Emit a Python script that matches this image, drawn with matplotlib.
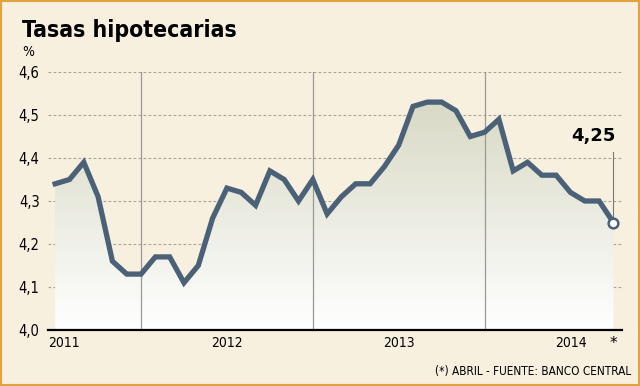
import numpy as np
import matplotlib
matplotlib.use("Agg")
import matplotlib.pyplot as plt
from matplotlib.colors import LinearSegmentedColormap

# monthly mortgage rates, Jan 2011 - Apr 2014
rates = [4.34, 4.35, 4.39, 4.31, 4.16, 4.13, 4.13, 4.17, 4.17, 4.11,
         4.15, 4.26, 4.33, 4.32, 4.29, 4.37, 4.35, 4.30, 4.35, 4.27,
         4.31, 4.34, 4.34, 4.38, 4.43, 4.52, 4.53, 4.53, 4.51, 4.45,
         4.46, 4.49, 4.37, 4.39, 4.36, 4.36, 4.32, 4.30, 4.30, 4.25]
year_labels = ["2011", "2012", "2013", "2014"]
y_ticks = [4.0, 4.1, 4.2, 4.3, 4.4, 4.5, 4.6]
y_labels = ["4,0", "4,1", "4,2", "4,3", "4,4", "4,5", "4,6"]
last_label = "4,25"

BG = "#f7f0df"
LINE = "#4b6177"
FONT = "DejaVu Sans"

plt.rcParams["font.family"] = FONT

fig = plt.figure(figsize=(6.4, 3.86), dpi=100, facecolor=BG)
ax = fig.add_axes([48 / 640, 56 / 386, 574 / 640, 258 / 386])
ax.set_facecolor(BG)

x = np.arange(len(rates))
y = np.array(rates)

ax.set_xlim(-0.5, 39.6)
ax.set_ylim(4.0, 4.6)

# gradient fill under the line
poly = ax.fill_between(x, y, 4.0, color="none", lw=0)
cmap = LinearSegmentedColormap.from_list("g", ["#ffffff", "#d8d9c5"])
grad = np.linspace(0, 1, 256).reshape(-1, 1)
im = ax.imshow(grad, extent=[x[0], x[-1], 4.0, max(rates)], origin="lower",
               aspect="auto", cmap=cmap, zorder=1)
im.set_clip_path(poly.get_paths()[0], transform=ax.transData)

# grid
for t in y_ticks[1:]:
    ax.axhline(t, color="#aaa398", lw=0.8, ls=(0, (2.5, 2)), zorder=0.5)
for i in [6, 18, 30]:
    ax.axvline(i, color="#999999", lw=0.9, zorder=2)

ax.plot(x, y, color=LINE, lw=3.8, solid_joinstyle="miter", zorder=4)
ax.plot(x[-1], y[-1], "o", ms=7, mfc="white", mec=LINE, mew=1.8, zorder=5)

# last value annotation
ax.plot([x[-1], x[-1]], [y[-1] + 0.01, 4.415], color="#777777", lw=0.8, zorder=3)
ax.text(x[-1] + 0.15, 4.43, last_label, ha="right", va="bottom", fontsize=13,
        fontweight="bold")

for s in ["top", "right", "left"]:
    ax.spines[s].set_visible(False)
ax.spines["bottom"].set_color("black")
ax.spines["bottom"].set_linewidth(1.6)
ax.spines["bottom"].set_zorder(6)

ax.set_yticks(y_ticks)
ax.set_yticklabels(y_labels, fontsize=10.5, fontstretch="condensed")
ax.set_xticks([0.6, 12, 24, 36])
ax.set_xticklabels(year_labels, fontsize=10, fontstretch="condensed")
ax.tick_params(length=0, pad=4)
ax.tick_params(axis="y", pad=6)

ax.text(x[-1], 3.985, "*", ha="center", va="top", fontsize=11)

fig.text(22 / 640, 1 - 30 / 386, "Tasas hipotecarias", fontsize=16.5, fontweight="bold",
         fontstretch="condensed", va="center", ha="left")
fig.text(22 / 640, 1 - 52 / 386, "%", fontsize=10, va="center", ha="left",
         fontstretch="condensed")
fig.text(631 / 640, 1 - 371 / 386, "(*) ABRIL - FUENTE: BANCO CENTRAL", fontsize=8.5,
         ha="right", va="center", fontstretch="condensed")

fig.patches.append(plt.Rectangle((0.002, 0.003), 0.996, 0.994, transform=fig.transFigure,
                                 fill=False, edgecolor="#e4a23c", lw=1.5))

fig.savefig("out.png", dpi=100, facecolor=BG)
